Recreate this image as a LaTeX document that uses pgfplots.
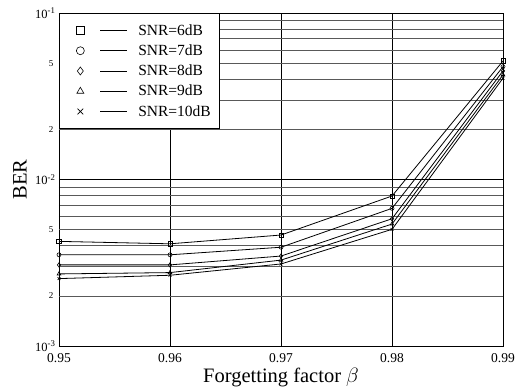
\documentclass[border=0pt]{standalone}
\usepackage{fontspec}
\setmainfont{Liberation Serif}
\usepackage{pgfplots}
\pgfplotsset{compat=1.18}
\begin{document}
\begin{tikzpicture}
\begin{axis}[
  scale only axis, width=444pt, height=333pt,
  xmin=0.95, xmax=0.99, ymode=log, ymin=1e-3, ymax=1e-1,
  clip=false,
  /pgf/number format/assume math mode=true,
  xtick={0.95,0.96,0.97,0.98,0.99},
  xticklabels={0.95,0.96,0.97,0.98,0.99},
  xticklabel style={font=\fontsize{13.5}{15}\selectfont, yshift=-4pt},
  ytick={0.001,0.01,0.1},
  yticklabels={10\textsuperscript{-3},10\textsuperscript{-2},10\textsuperscript{-1}},
  yticklabel style={font=\fontsize{12.5}{14}\selectfont},
  extra y ticks={0.002,0.005,0.02,0.05},
  extra y tick labels={2,5,2,5},
  extra y tick style={yticklabel style={font=\fontsize{9}{10}\selectfont, xshift=-2pt},
     major grid style={black!65, line width=0.6pt}},
  minor ytick={0.003,0.004,0.006,0.007,0.008,0.009,0.03,0.04,0.06,0.07,0.08,0.09},
  xmajorgrids, ymajorgrids, yminorgrids,
  major grid style={black, line width=0.6pt},
  minor grid style={black!65, line width=0.6pt},
  tick style={draw=none},
  axis line style={black, line width=0.7pt},
  xlabel={Forgetting factor $\beta$},
  ylabel={BER},
  label style={font=\fontsize{20.5}{22}\selectfont},
  xlabel style={at={(axis description cs:0.5,0)}, anchor=center, yshift=-31pt},
  ylabel style={at={(axis description cs:-0.0878,0.5)}, anchor=center},
  legend style={at={(0,1)}, anchor=north west, draw=black, line width=0.7pt,
     font=\fontsize{15.5}{17}\selectfont, inner xsep=7pt, inner ysep=9pt,
     row sep=4pt, fill=white},
  legend cell align=left,
  legend image code/.code={%
    \path[draw=none, fill=none] (-14pt,0pt) rectangle (56pt,0.1pt);
    \begin{scope}[mark size=4pt]
    \draw[#1, line width=0.6pt] plot coordinates {(0pt,0pt)};
    \end{scope}
    \draw[#1, mark=none, line width=0.8pt] (20pt,0pt) -- (47pt,0pt);
  },
  every axis plot/.append style={black, line width=0.8pt,
     mark options={solid, line width=0.6pt}},
]
\addplot[mark=square, mark size=2.2pt] coordinates {(0.95,0.00425) (0.96,0.00411) (0.97,0.00464) (0.98,0.00796) (0.99,0.0515)};
\addlegendentry{SNR=6dB}
\addplot[mark=o] coordinates {(0.95,0.00353) (0.96,0.00353) (0.97,0.00392) (0.98,0.00671) (0.99,0.0476)};
\addlegendentry{SNR=7dB}
\addplot[mark=diamond, mark size=2.2pt] coordinates {(0.95,0.00307) (0.96,0.00307) (0.97,0.00347) (0.98,0.00581) (0.99,0.0449)};
\addlegendentry{SNR=8dB}
\addplot[mark=triangle, mark size=2.2pt] coordinates {(0.95,0.00271) (0.96,0.00276) (0.97,0.00328) (0.98,0.0054) (0.99,0.0425)};
\addlegendentry{SNR=9dB}
\addplot[mark=x] coordinates {(0.95,0.00254) (0.96,0.00266) (0.97,0.00311) (0.98,0.00502) (0.99,0.0406)};
\addlegendentry{SNR=10dB}
\end{axis}
\pgfresetboundingbox
\useasboundingbox (current axis.south west) ++(-59pt,-41pt) rectangle ++(518pt,387pt);
\end{tikzpicture}
\end{document}
